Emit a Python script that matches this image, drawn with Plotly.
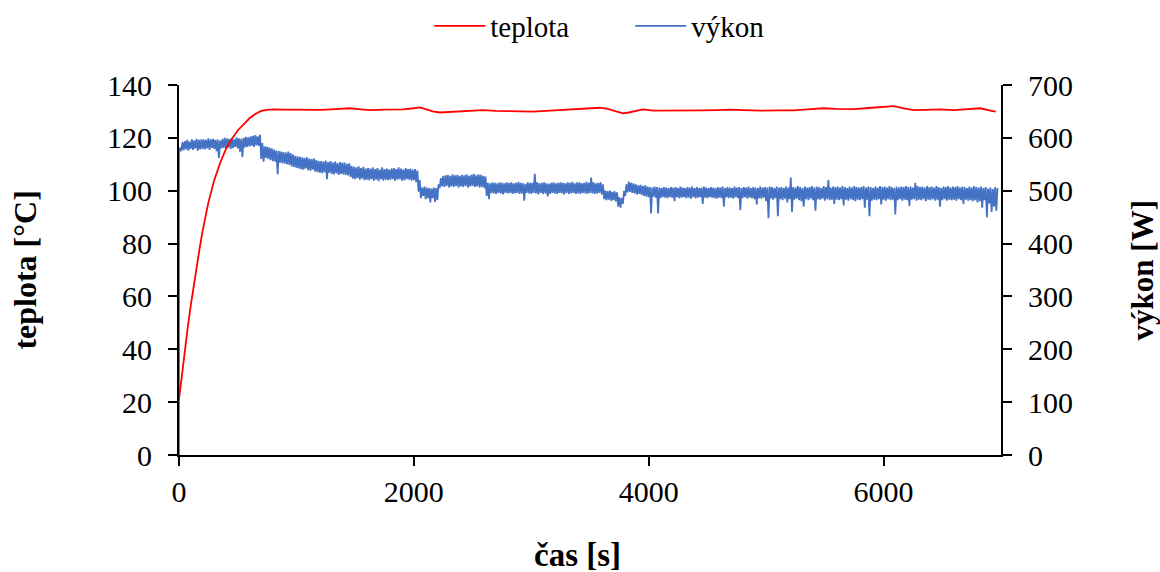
import plotly.graph_objects as go

# ---- data ----
temp_time = [0, 25, 50, 75, 100, 125, 150, 175, 200, 250, 300, 350, 400, 450, 500, 550, 600, 650,
             700, 750, 800, 900, 1000, 1100, 1200, 1300, 1455, 1550, 1625, 1750, 1910, 2000, 2050,
             2108, 2160, 2222, 2333, 2478, 2588, 2700, 2875, 3016, 3159, 3280, 3387, 3500, 3585,
             3650, 3696, 3750, 3781, 3830, 3900, 3952, 4040, 4150, 4295, 4450, 4580, 4700, 4805,
             4950, 5100, 5230, 5350, 5486, 5600, 5746, 5900, 6000, 6087, 6172, 6257, 6350, 6485,
             6600, 6700, 6825, 6910, 6955]
temperature = [21, 31, 40, 48.5, 56.5, 64, 71, 78, 84.5, 95.5, 104, 110.5, 115.8, 119.6, 122.8,
               125.3, 127.4, 129.0, 130.2, 130.6, 130.8, 130.7, 130.6, 130.7, 130.6, 130.8, 131.2,
               130.8, 130.5, 130.7, 130.8, 131.2, 131.5, 130.8, 130.0, 129.6, 129.9, 130.3, 130.5,
               130.2, 129.9, 129.9, 130.3, 130.6, 130.9, 131.2, 131.4, 131.0, 130.3, 129.6, 129.3,
               129.6, 130.4, 130.8, 130.3, 130.4, 130.5, 130.4, 130.5, 130.7, 130.5, 130.3, 130.4,
               130.4, 130.8, 131.2, 131.0, 130.9, 131.4, 131.6, 132.0, 131.2, 130.5, 130.6, 130.8,
               130.5, 130.9, 131.2, 130.3, 129.9]

# power: per 20-s logger window, the highest and lowest reading seen in the picture
power_window = 20
power_high = [
    582, 592, 594, 596, 593, 597, 595, 598, 596, 597,
    597, 596, 599, 597, 598, 596, 597, 595, 598, 600,
    599, 598, 600, 597, 601, 599, 598, 600, 602, 601,
    603, 604, 605, 603, 606, 590, 584, 583, 582, 580,
    578, 576, 575, 574, 573, 572, 574, 571, 569, 566,
    565, 564, 563, 562, 563, 561, 560, 561, 558, 556,
    556, 555, 557, 554, 556, 553, 555, 552, 554, 553,
    553, 551, 552, 547, 545, 544, 546, 543, 545, 542,
    543, 542, 544, 541, 543, 540, 544, 541, 542, 540,
    542, 543, 541, 544, 542, 540, 543, 541, 542, 540,
    541, 538, 520, 506, 508, 506, 505, 504, 506, 505,
    512, 524, 528, 529, 530, 528, 531, 529, 530, 528,
    530, 529, 531, 528, 530, 532, 529, 531, 530, 528,
    527, 515, 514, 516, 515, 514, 516, 515, 514, 516,
    515, 516, 514, 515, 517, 515, 514, 513, 516, 515,
    515, 532, 516, 514, 515, 516, 514, 513, 515, 516,
    514, 515, 516, 515, 514, 516, 515, 517, 514, 516,
    516, 514, 515, 517, 515, 525, 516, 514, 515, 516,
    512, 500, 499, 500, 498, 499, 497, 488, 486, 500,
    512, 517, 515, 514, 512, 510, 511, 509, 510, 508,
    507, 506, 508, 507, 506, 505, 507, 506, 505, 507,
    506, 507, 505, 508, 506, 505, 507, 506, 508, 505,
    507, 505, 506, 508, 506, 505, 507, 506, 505, 507,
    506, 508, 505, 507, 506, 505, 508, 506, 507, 505,
    507, 506, 508, 505, 507, 506, 505, 508, 506, 507,
    506, 508, 507, 505, 508, 506, 507, 505, 508, 506,
    525, 507, 506, 509, 507, 505, 508, 506, 507, 509,
    506, 508, 507, 505, 509, 507, 520, 506, 508, 507,
    508, 506, 509, 507, 505, 508, 506, 509, 507, 506,
    507, 509, 506, 508, 507, 505, 508, 506, 509, 507,
    508, 506, 509, 507, 505, 508, 506, 508, 507, 509,
    507, 508, 506, 515, 509, 507, 508, 506, 509, 507,
    508, 506, 509, 507, 505, 508, 507, 509, 506, 508,
    507, 509, 506, 508, 507, 505, 508, 506, 509, 507,
    506, 508, 505, 507, 504, 506, 503, 507, 505]
power_low = [
    570, 575, 577, 578, 576, 579, 577, 580, 576, 578,
    579, 578, 580, 577, 581, 579, 575, 562, 580, 581,
    580, 582, 579, 581, 583, 580, 574, 564, 582, 583,
    584, 585, 583, 586, 585, 560, 555, 562, 560, 558,
    556, 555, 531, 553, 552, 551, 550, 549, 546, 545,
    543, 542, 541, 540, 542, 539, 538, 540, 536, 535,
    534, 533, 535, 522, 534, 532, 531, 533, 530, 532,
    531, 530, 529, 526, 523, 522, 524, 521, 523, 520,
    521, 520, 522, 519, 521, 518, 522, 519, 521, 520,
    521, 522, 519, 521, 522, 519, 520, 522, 521, 519,
    520, 516, 498, 486, 490, 484, 486, 478, 486, 479,
    482, 505, 508, 507, 509, 506, 508, 507, 509, 506,
    508, 507, 509, 506, 508, 509, 507, 508, 506, 507,
    505, 490, 484, 496, 495, 494, 496, 495, 493, 496,
    495, 496, 494, 495, 496, 494, 495, 481, 496, 495,
    494, 496, 495, 493, 496, 494, 495, 489, 494, 496,
    495, 494, 496, 495, 493, 496, 494, 495, 496, 494,
    495, 494, 496, 495, 494, 496, 495, 494, 495, 496,
    493, 484, 482, 483, 481, 482, 480, 470, 468, 475,
    490, 497, 498, 496, 495, 493, 494, 492, 490, 489,
    488, 457, 489, 487, 457, 486, 488, 487, 486, 488,
    487, 480, 488, 486, 487, 488, 486, 487, 485, 488,
    486, 487, 488, 475, 487, 486, 488, 487, 486, 485,
    487, 486, 470, 488, 486, 487, 485, 488, 486, 463,
    486, 488, 485, 487, 486, 484, 474, 486, 485, 487,
    480, 448, 485, 483, 486, 452, 484, 482, 485, 478,
    484, 460, 483, 485, 482, 480, 470, 484, 482, 485,
    482, 462, 484, 483, 485, 481, 484, 482, 483, 475,
    483, 482, 484, 472, 483, 481, 484, 482, 480, 483,
    482, 484, 468, 483, 452, 481, 483, 482, 484, 474,
    483, 481, 484, 482, 483, 455, 482, 484, 481, 483,
    482, 471, 483, 484, 481, 483, 482, 484, 480, 483,
    482, 484, 481, 483, 470, 482, 484, 481, 483, 482,
    483, 481, 484, 482, 475, 483, 481, 482, 480, 482,
    478, 480, 468, 482, 450, 476, 460, 470, 462]

x_ticks = [0, 2000, 4000, 6000]
temp_ticks = [0, 20, 40, 60, 80, 100, 120, 140]
power_ticks = [0, 100, 200, 300, 400, 500, 600, 700]

# trace for power: start from 0 W at t=0, then low/high of each window
power_time = [0]
power_vals = [0]
for k, (lo, hi) in enumerate(zip(power_low, power_high)):
    power_time += [power_window * k, power_window * k + power_window / 2]
    power_vals += [lo, hi]

FONT = "Liberation Serif"
RED = "#FF0000"
BLUE = "#4472C4"

fig = go.Figure()
fig.add_trace(go.Scatter(x=temp_time, y=temperature, name="teplota", mode="lines",
                         line=dict(color=RED, width=1.8), yaxis="y2"))
fig.add_trace(go.Scatter(x=power_time, y=power_vals, name="výkon", mode="lines",
                         line=dict(color=BLUE, width=1.8), yaxis="y"))

axis_common = dict(showline=True, linecolor="black", linewidth=2, ticks="outside",
                   ticklen=9, tickwidth=2, tickcolor="black", showgrid=False, zeroline=False,
                   tickfont=dict(family=FONT, size=30, color="black"))

fig.update_layout(
    width=1160, height=572,
    margin=dict(l=179, r=159, t=85, b=117),
    paper_bgcolor="white", plot_bgcolor="white",
    font=dict(family=FONT, color="black"),
    xaxis=dict(range=[0, 7000], tickvals=x_ticks, **axis_common),
    yaxis=dict(range=[0, 700], tickvals=power_ticks, side="right", ticklabelstandoff=10,
               **axis_common),
    yaxis2=dict(range=[0, 140], tickvals=temp_ticks, side="left", overlaying="y",
                ticklabelstandoff=10, **axis_common),
    legend=dict(orientation="h", x=0.549, xanchor="center", yref="container", y=1 - 26 / 572,
                yanchor="middle", font=dict(family=FONT, size=29, color="black"),
                itemwidth=51, entrywidth=135, bgcolor="rgba(0,0,0,0)"),
    showlegend=True,
)

fig.add_annotation(text="<b>teplota [°C]</b>", xref="paper", yref="paper", x=(25 - 179.3) / 821.4,
                   y=0.5, textangle=-90, showarrow=False, xanchor="center", yanchor="middle",
                   font=dict(family=FONT, size=32, color="black"))
fig.add_annotation(text="<b>výkon [W]</b>", xref="paper", yref="paper", x=(1142 - 179.3) / 821.4,
                   y=0.5, textangle=-90, showarrow=False, xanchor="center", yanchor="middle",
                   font=dict(family=FONT, size=31, color="black"))
fig.add_annotation(text="<b>čas [s]</b>", xref="paper", yref="paper", x=(578 - 179.3) / 821.4,
                   y=(455 - 555) / 370, showarrow=False, xanchor="center", yanchor="middle",
                   font=dict(family=FONT, size=33, color="black"))

fig.write_html("out.html")
